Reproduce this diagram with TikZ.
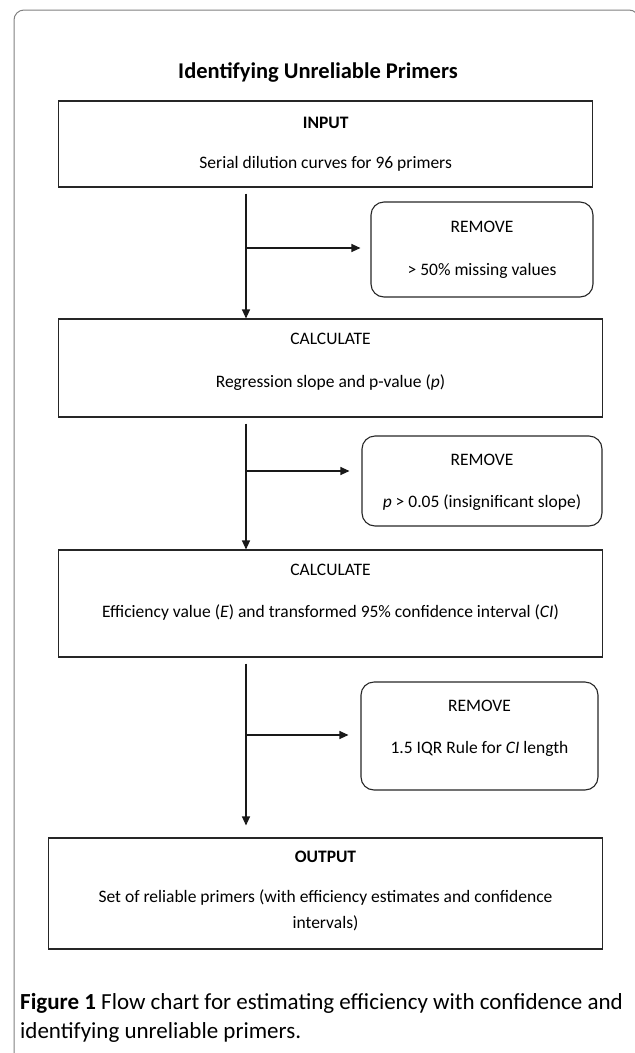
\documentclass[tikz,border=0pt]{standalone}
\usepackage{fontspec}
\setmainfont{Carlito}
\usetikzlibrary{arrows.meta, positioning}

\tikzset{
  flowbox/.style={draw=black!85, line width=1.1pt, inner sep=0pt},
  dropbox/.style={flowbox, rounded corners=13pt},
  boxtext/.style={font=\fontsize{17.5}{21}\selectfont, inner sep=0pt, align=center},
  flowarrow/.style={line width=1.1pt, draw=black!90, -{Triangle[length=9pt,width=8pt]}},
}

\begin{document}
\begin{tikzpicture}[x=1pt,y=-1pt]
  \useasboundingbox (0,0) rectangle (635,1053);
  \clip (0,0) rectangle (635,1053);

  % frame
  \draw[black!50, line width=1pt, rounded corners=10pt] (14,1070) -- (14,10) -- (639,10) -- (639,1070);

  % title
  \node[font=\fontsize{22.5}{27}\selectfont\bfseries] (title) at (318,72) {Identifying Unreliable Primers};

  % boxes
  \node[flowbox, minimum width=534pt, minimum height=86pt] (inbox) at (325.7,144) {};
  \node[dropbox, minimum width=222pt, minimum height=95pt] (rmA) at (482,249.5) {};
  \node[flowbox, minimum width=543.6pt, minimum height=98pt] (calcA) at (330.5,368) {};
  \node[dropbox, minimum width=240pt, minimum height=90pt] (rmB) at (482,481) {};
  \node[flowbox, minimum width=543.6pt, minimum height=107pt] (calcB) at (330.5,603.5) {};
  \node[dropbox, minimum width=237pt, minimum height=108pt] (rmC) at (479.5,736) {};
  \node[flowbox, minimum width=553.6pt, minimum height=111pt] (outbox) at (325.5,893.5) {};

  % box texts
  \node[boxtext, font=\fontsize{17.5}{21}\selectfont\bfseries] (inhead) at (325.7,123) {INPUT};
  \node[boxtext] (inbody) at (325.7,164) {Serial dilution curves for 96 primers};
  \node[boxtext] (rmAhead) at (482,227) {REMOVE};
  \node[boxtext] (rmAbody) at (482,271) {> 50\% missing values};
  \node[boxtext] (calcAhead) at (330.5,339) {CALCULATE};
  \node[boxtext] (calcAbody) at (330.5,383) {Regression slope and p-value (\textit{p})};
  \node[boxtext] (rmBhead) at (482,460) {REMOVE};
  \node[boxtext] (rmBbody) at (482,503) {\textit{p} > 0.05 (insignificant slope)};
  \node[boxtext] (calcBhead) at (330.5,570) {CALCULATE};
  \node[boxtext] (calcBbody) at (330.5,613) {Efficiency value (\textit{E}) and transformed 95\% confidence interval (\textit{CI})};
  \node[boxtext] (rmChead) at (479.5,706) {REMOVE};
  \node[boxtext] (rmCbody) at (479.5,749) {1.5 IQR Rule for \textit{CI} length};
  \node[boxtext, font=\fontsize{17.5}{21}\selectfont\bfseries] (outhead) at (325.5,857) {OUTPUT};
  \node[boxtext, font=\fontsize{17.5}{26}\selectfont] (outbody) at (325.5,910) {Set of reliable primers (with efficiency estimates and confidence\\ intervals)};

  % branch points
  \coordinate (brA) at (246,248);
  \coordinate (brB) at (246,471);
  \coordinate (brC) at (246,735);

  % arrows
  \draw[flowarrow, shorten <=6pt] (inbox.south -| brA) -- (calcA.north -| brA);
  \draw[flowarrow, shorten >=10pt] (brA) -- (brA -| rmA.west);
  \draw[flowarrow, shorten <=6pt] (calcA.south -| brB) -- (calcB.north -| brB);
  \draw[flowarrow, shorten >=12pt] (brB) -- (brB -| rmB.west);
  \draw[flowarrow, shorten <=6pt, shorten >=12pt] (calcB.south -| brC) -- (outbox.north -| brC);
  \draw[flowarrow, shorten >=12pt] (brC) -- (brC -| rmC.west);

  % caption
  \node[anchor=west, align=left, inner sep=0pt, font=\fontsize{23}{29}\selectfont] (caption) at (20,1017.5)
    {\textbf{Figure 1} Flow chart for estimating efficiency with confidence and\\ identifying unreliable primers.};
\end{tikzpicture}
\end{document}
